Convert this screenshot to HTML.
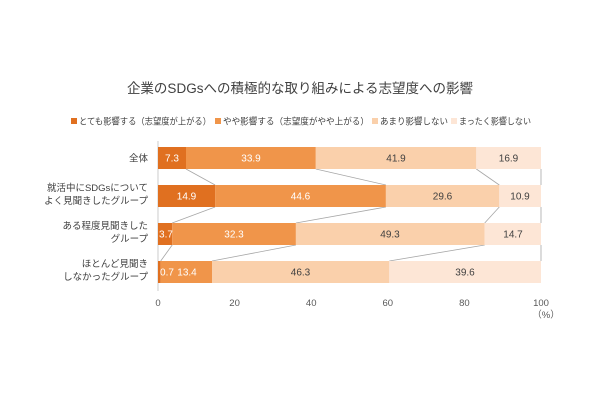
<!DOCTYPE html>
<html><head><meta charset="utf-8"><style>
html,body{margin:0;padding:0;background:#fff;}
svg{display:block;font-family:"Liberation Sans","Noto Sans CJK JP",sans-serif;}
</style></head><body>
<svg width="600" height="400" viewBox="0 0 600 400" xmlns="http://www.w3.org/2000/svg">
<text x="300" y="93" font-size="13.5" text-anchor="middle" fill="#404040">企業のSDGsへの積極的な取り組みによる志望度への影響</text>
<g font-size="9" fill="#404040">
<rect x="71" y="118" width="6" height="6" fill="#e07020"/><text x="79" y="124.5" textLength="132" lengthAdjust="spacingAndGlyphs">とても影響する（志望度が上がる）</text>
<rect x="215" y="118" width="6" height="6" fill="#f0954a"/><text x="223" y="124.5" textLength="146" lengthAdjust="spacingAndGlyphs">やや影響する（志望度がやや上がる）</text>
<rect x="372" y="118" width="6" height="6" fill="#fad0ab"/><text x="380" y="124.5" textLength="68" lengthAdjust="spacingAndGlyphs">あまり影響しない</text>
<rect x="451" y="118" width="6" height="6" fill="#fde6d6"/><text x="459" y="124.5" textLength="72" lengthAdjust="spacingAndGlyphs">まったく影響しない</text>
</g>
<g stroke="#a6a6a6" stroke-width="0.8">
<line x1="186" y1="169" x2="215.1" y2="185"/><line x1="315.8" y1="169" x2="385.9" y2="185"/><line x1="476.3" y1="169" x2="499.3" y2="185"/><line x1="541" y1="169" x2="541" y2="185"/>
<line x1="215.1" y1="207" x2="172.2" y2="223"/><line x1="385.9" y1="207" x2="295.9" y2="223"/><line x1="499.3" y1="207" x2="484.7" y2="223"/><line x1="541" y1="207" x2="541" y2="223"/>
<line x1="172.2" y1="245" x2="160.7" y2="261"/><line x1="295.9" y1="245" x2="212" y2="261"/><line x1="484.7" y1="245" x2="389.3" y2="261"/><line x1="541" y1="245" x2="541" y2="261"/>
<line x1="158" y1="141" x2="158" y2="291" stroke="#bfbfbf"/>
</g>
<g>
<rect x="158" y="147" width="28" height="22" fill="#e07020"/><rect x="186" y="147" width="129.8" height="22" fill="#f0954a"/><rect x="315.8" y="147" width="160.5" height="22" fill="#fad0ab"/><rect x="476.3" y="147" width="64.7" height="22" fill="#fde6d6"/>
<rect x="158" y="185" width="57.1" height="22" fill="#e07020"/><rect x="215.1" y="185" width="170.8" height="22" fill="#f0954a"/><rect x="385.9" y="185" width="113.4" height="22" fill="#fad0ab"/><rect x="499.3" y="185" width="41.7" height="22" fill="#fde6d6"/>
<rect x="158" y="223" width="14.2" height="22" fill="#e07020"/><rect x="172.2" y="223" width="123.7" height="22" fill="#f0954a"/><rect x="295.9" y="223" width="188.8" height="22" fill="#fad0ab"/><rect x="484.7" y="223" width="56.3" height="22" fill="#fde6d6"/>
<rect x="158" y="261" width="2.7" height="22" fill="#e07020"/><rect x="160.7" y="261" width="51.3" height="22" fill="#f0954a"/><rect x="212" y="261" width="177.3" height="22" fill="#fad0ab"/><rect x="389.3" y="261" width="151.7" height="22" fill="#fde6d6"/>
</g>
<g font-size="10" text-anchor="middle">
<text x="172" y="161.5" fill="#fff">7.3</text><text x="251" y="161.5" fill="#fff">33.9</text><text x="396" y="161.5" fill="#404040">41.9</text><text x="508.5" y="161.5" fill="#404040">16.9</text>
<text x="186.5" y="199.5" fill="#fff">14.9</text><text x="300.5" y="199.5" fill="#fff">44.6</text><text x="442.5" y="199.5" fill="#404040">29.6</text><text x="520" y="199.5" fill="#404040">10.9</text>
<text x="166" y="237.5" fill="#fff">3.7</text><text x="234" y="237.5" fill="#fff">32.3</text><text x="390" y="237.5" fill="#404040">49.3</text><text x="513" y="237.5" fill="#404040">14.7</text>
<text x="167" y="275.5" fill="#fff">0.7</text><text x="187" y="275.5" fill="#fff">13.4</text><text x="300.5" y="275.5" fill="#404040">46.3</text><text x="465" y="275.5" fill="#404040">39.6</text>
</g>
<g font-size="9.5" fill="#404040" text-anchor="end">
<text x="148" y="161.5">全体</text>
<text x="148" y="191">就活中にSDGsについて</text><text x="148" y="204">よく見聞きしたグループ</text>
<text x="148" y="229">ある程度見聞きした</text><text x="148" y="242">グループ</text>
<text x="148" y="267">ほとんど見聞き</text><text x="148" y="280">しなかったグループ</text>
</g>
<g font-size="9.5" fill="#595959" text-anchor="middle">
<text x="158" y="306">0</text><text x="234.6" y="306">20</text><text x="311.2" y="306">40</text><text x="387.8" y="306">60</text><text x="464.4" y="306">80</text><text x="541" y="306">100</text>
<text x="546" y="318">（%）</text>
</g>
</svg>
</body></html>
